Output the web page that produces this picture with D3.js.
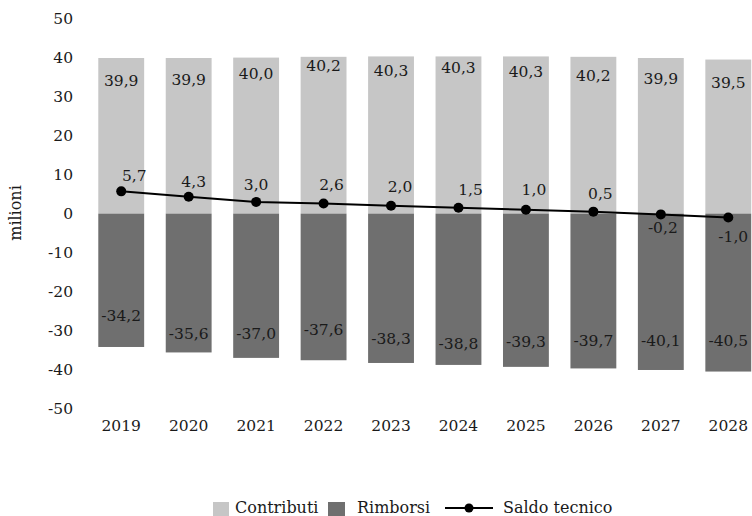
<!DOCTYPE html>
<html>
<head>
<meta charset="utf-8">
<script src="https://cdn.jsdelivr.net/npm/d3@7/dist/d3.min.js"></script>
<style>
  html, body { margin: 0; padding: 0; background: #fff; }
  svg { display: block; }
  text { font-family: "DejaVu Serif", "Liberation Serif", serif; fill: #1a1a1a; }
</style>
</head>
<body>
<svg id="chart" width="752" height="516"></svg>
<script>
// Data (milioni)
const years      = ["2019", "2020", "2021", "2022", "2023", "2024", "2025", "2026", "2027", "2028"];
const contributi = [39.9, 39.9, 40.0, 40.2, 40.3, 40.3, 40.3, 40.2, 39.9, 39.5];
const rimborsi   = [-34.2, -35.6, -37.0, -37.6, -38.3, -38.8, -39.3, -39.7, -40.1, -40.5];
const saldo      = [5.7, 4.3, 3.0, 2.6, 2.0, 1.5, 1.0, 0.5, -0.2, -1.0];
const yTicks     = [50, 40, 30, 20, 10, 0, -10, -20, -30, -40, -50];
const seriesNames = ["Contributi", "Rimborsi", "Saldo tecnico"];

// Label placement nudges (pixels)
const contribLabelDy = [24, 23, 17, 10, 16, 13, 17, 20, 22, 24];   // below bar top
const rimbLabelDy    = [30, 17, 23, 29, 23, 20, 24, 26, 28, 30];   // above bar bottom
const saldoLabelDx   = [13, 5, 0, 8, 9, 12, 8, 7, 2, 5];
const saldoLabelDy   = [-14, -14, -16, -17, -18, -17, -19, -17, 15, 20];

const colLight = "#c6c6c6";
const colDark  = "#6f6f6f";
const fmt = v => d3.format(".1f")(v).replace(".", ",").replace("−", "-");

const svg = d3.select("#chart");
const fs = 15.5;

const x = d3.scaleBand().domain(years).range([87.5, 762]).paddingInner(0.32).paddingOuter(0.16);
const y = d3.scaleLinear().domain([-50, 50]).range([408.6, 18.6]);

// Y tick labels (no axis line)
const yAxis = d3.axisLeft(y).tickValues(yTicks).tickSize(0).tickPadding(0)
  .tickFormat(d => String(d));
const gy = svg.append("g").attr("transform", "translate(73,0)").call(yAxis);
gy.select(".domain").remove();
gy.selectAll("text").attr("font-size", fs).attr("font-family", "DejaVu Serif").attr("fill", "#1a1a1a");

// X tick labels
const xAxis = d3.axisBottom(x).tickSize(0).tickPadding(0);
const gx = svg.append("g").attr("transform", "translate(0,420)").call(xAxis);
gx.select(".domain").remove();
gx.selectAll("text").attr("font-size", fs).attr("font-family", "DejaVu Serif").attr("fill", "#1a1a1a");

// Axis title
svg.append("text")
  .attr("transform", "translate(16,213) rotate(-90)")
  .attr("text-anchor", "middle").attr("dominant-baseline", "middle")
  .attr("font-size", 16).text("milioni");

// Bars
svg.append("g").selectAll("rect").data(years).join("rect")
  .attr("x", d => x(d)).attr("width", x.bandwidth())
  .attr("y", (d, i) => y(contributi[i]))
  .attr("height", (d, i) => y(0) - y(contributi[i]))
  .attr("fill", colLight);

svg.append("g").selectAll("rect").data(years).join("rect")
  .attr("x", d => x(d)).attr("width", x.bandwidth())
  .attr("y", y(0))
  .attr("height", (d, i) => y(rimborsi[i]) - y(0))
  .attr("fill", colDark);

// Bar labels
svg.append("g").selectAll("text").data(years).join("text")
  .attr("x", d => x(d) + x.bandwidth() / 2)
  .attr("y", (d, i) => y(contributi[i]) + contribLabelDy[i])
  .attr("text-anchor", "middle").attr("dominant-baseline", "middle")
  .attr("font-size", fs)
  .text((d, i) => fmt(contributi[i]));

svg.append("g").selectAll("text").data(years).join("text")
  .attr("x", d => x(d) + x.bandwidth() / 2)
  .attr("y", (d, i) => y(rimborsi[i]) - rimbLabelDy[i])
  .attr("text-anchor", "middle").attr("dominant-baseline", "middle")
  .attr("font-size", fs)
  .text((d, i) => fmt(rimborsi[i]));

// Saldo tecnico line
const cx = d => x(d) + x.bandwidth() / 2;
const line = d3.line().x((d, i) => cx(years[i])).y(d => y(d));
svg.append("path").datum(saldo).attr("d", line)
  .attr("fill", "none").attr("stroke", "#000").attr("stroke-width", 2);

svg.append("g").selectAll("circle").data(saldo).join("circle")
  .attr("cx", (d, i) => cx(years[i])).attr("cy", d => y(d))
  .attr("r", 5).attr("fill", "#000");

svg.append("g").selectAll("text").data(saldo).join("text")
  .attr("x", (d, i) => cx(years[i]) + saldoLabelDx[i])
  .attr("y", (d, i) => y(d) + saldoLabelDy[i])
  .attr("text-anchor", "middle").attr("dominant-baseline", "middle")
  .attr("font-size", fs)
  .text(d => fmt(d));

// Legend
const lg = svg.append("g");
const ly = 508;
const lfs = 16;
lg.append("rect").attr("x", 213).attr("y", ly - 6).attr("width", 16).attr("height", 15).attr("fill", colLight);
lg.append("text").attr("x", 235).attr("y", ly).attr("dominant-baseline", "middle").attr("font-size", lfs).text(seriesNames[0]);
lg.append("rect").attr("x", 328).attr("y", ly - 6).attr("width", 17).attr("height", 15).attr("fill", colDark);
lg.append("text").attr("x", 357).attr("y", ly).attr("dominant-baseline", "middle").attr("font-size", lfs).text(seriesNames[1]);
lg.append("line").attr("x1", 445).attr("x2", 493).attr("y1", ly).attr("y2", ly).attr("stroke", "#000").attr("stroke-width", 2);
lg.append("circle").attr("cx", 469).attr("cy", ly).attr("r", 4.5).attr("fill", "#000");
lg.append("text").attr("x", 503).attr("y", ly).attr("dominant-baseline", "middle").attr("font-size", lfs).text(seriesNames[2]);
</script>
</body>
</html>
